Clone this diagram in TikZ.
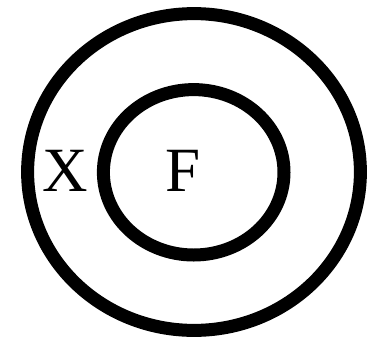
\documentclass[tikz,border=0pt]{standalone}
\usepackage{fontspec}
\setmainfont{Liberation Serif}
\begin{document}
\begin{tikzpicture}[x=1pt,y=-1pt,
  ring/.style={draw=black,line width=13pt},
  lbl/.style={inner sep=0pt,font=\fontsize{63}{63}\selectfont}]
\useasboundingbox[fill=white] (0,0) rectangle (374,338);
\draw[ring] (194,172) ellipse [x radius=166.4,y radius=158.4];
\draw[ring] (193.7,172.3) ellipse [x radius=90.3,y radius=82.7];
\node[lbl] (x) at (64.8,170.4) {X};
\node[lbl] (f) at (183,170.4) {F};
\end{tikzpicture}
\end{document}
